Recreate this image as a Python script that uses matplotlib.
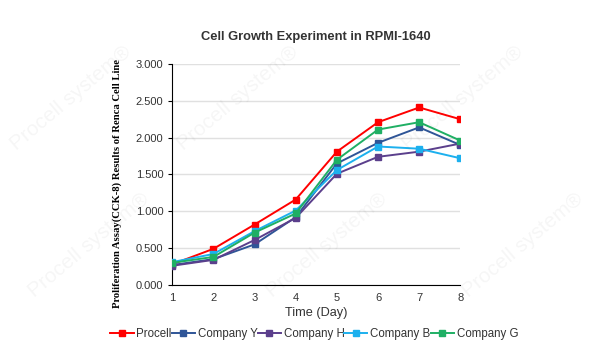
import matplotlib
matplotlib.use("Agg")
import matplotlib.pyplot as plt

plt.rcParams["font.family"] = ["Liberation Sans", "DejaVu Sans"]

days = [1, 2, 3, 4, 5, 6, 7, 8]
procell = [0.28, 0.49, 0.82, 1.16, 1.81, 2.21, 2.41, 2.25]
company_y = [0.27, 0.35, 0.55, 0.92, 1.65, 1.93, 2.14, 1.90]
company_h = [0.26, 0.34, 0.61, 0.91, 1.51, 1.74, 1.81, 1.92]
company_b = [0.31, 0.42, 0.73, 1.01, 1.56, 1.88, 1.85, 1.72]
company_g = [0.30, 0.38, 0.71, 0.97, 1.70, 2.11, 2.21, 1.96]
series_names = ["Procell", "Company Y", "Company H", "Company B", "Company G"]
yticks = [0.0, 0.5, 1.0, 1.5, 2.0, 2.5, 3.0]

colors = ["#FF0000", "#2F5597", "#5B3F8C", "#1CB0EE", "#1FAF64"]
series = [procell, company_y, company_h, company_b, company_g]

fig = plt.figure(figsize=(5.94, 3.5), dpi=100)
ax = fig.add_axes([0.29, 0.186, 0.485, 0.631])

# faint watermarks
wm = [(0.40, 0.72), (0.78, 0.72), (0.12, 0.72), (0.55, 0.30), (0.88, 0.30), (0.15, 0.30)]
for (x, y) in wm:
    fig.text(x, y, "Procell system®", fontsize=15, color="#000000", alpha=0.04, rotation=40,
             ha="center", va="center", zorder=0)

for s, name, c in zip(series, series_names, colors):
    ax.plot(days, s, color=c, lw=1.4, marker="s", markersize=4.5,
            markerfacecolor=c, markeredgecolor=c, label=name, zorder=3)

ax.set_xlim(1, 8)
ax.set_ylim(0, 3)
ax.set_yticks(yticks)
ax.set_yticklabels([f"{v:.3f}" for v in yticks])
ax.set_xticks(days)
ax.grid(axis="y", color="#E0E0E0", lw=1)
ax.set_axisbelow(True)
for sp in ["top", "right"]:
    ax.spines[sp].set_visible(False)
ax.spines["left"].set_color("#000000")
ax.spines["bottom"].set_color("#000000")
ax.tick_params(axis="y", length=3, labelsize=8, colors="#000000", labelcolor="#333333")
ax.tick_params(axis="x", length=0, labelsize=8, colors="#333333", pad=6)

ax.set_xlabel("Time (Day)", fontsize=9.2, color="#333333", labelpad=3)
ax.set_ylabel("Proliferation Assay(CCK-8) Results of Renca Cell Line",
              family="Liberation Serif", fontweight="bold", fontsize=7.7, color="#000000")
ax.yaxis.set_label_coords(-0.175, 0.46)
ax.set_title("Cell Growth Experiment in RPMI-1640", fontsize=9.3, fontweight="bold",
             color="#333333", pad=17)

fig.legend(loc="center", bbox_to_anchor=(0.529, 0.045), ncol=5, frameon=False,
           fontsize=8.3, handlelength=2.0, handletextpad=0.25, columnspacing=0.0,
           labelcolor="#333333")

fig.savefig("out.png", dpi=100)
